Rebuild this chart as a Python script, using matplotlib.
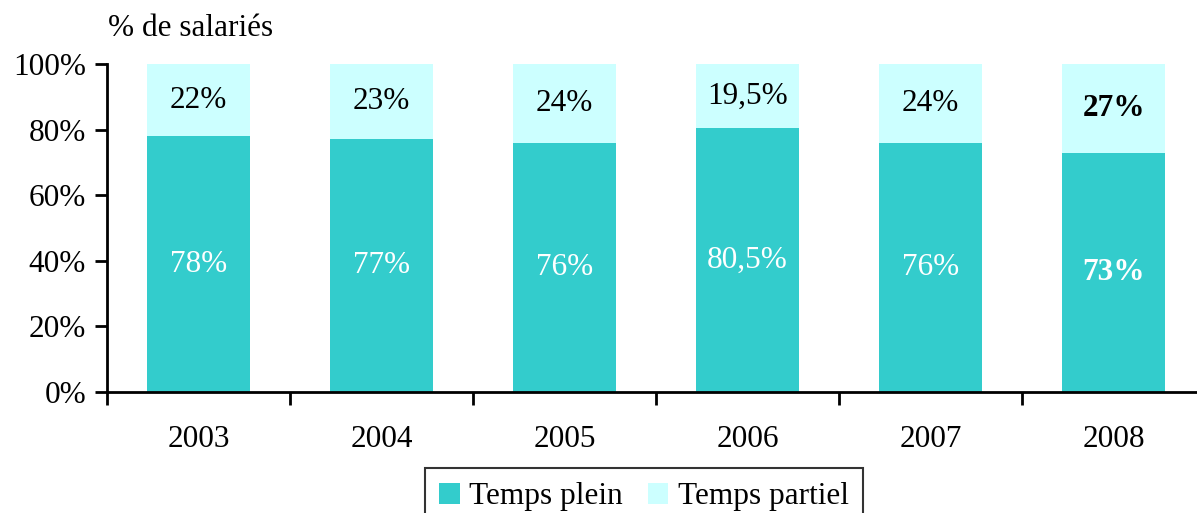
import matplotlib
matplotlib.use("Agg")
import matplotlib.pyplot as plt
import numpy as np

years = ["2003", "2004", "2005", "2006", "2007", "2008"]
plein = [78, 77, 76, 80.5, 76, 73]
partiel = [22, 23, 24, 19.5, 24, 27]
plein_labels = ["78%", "77%", "76%", "80,5%", "76%", "73%"]
partiel_labels = ["22%", "23%", "24%", "19,5%", "24%", "27%"]
bold = [False, False, False, False, False, True]
yticks = [0, 20, 40, 60, 80, 100]
ytick_labels = ["0%", "20%", "40%", "60%", "80%", "100%"]

plt.rcParams['font.family'] = ['Liberation Serif', 'DejaVu Serif']
FS = 22.5

W, H = 1197, 513
fig = plt.figure(figsize=(W/100, H/100), dpi=100)
ax = fig.add_axes([107/W, (H-392)/H, 1098/W, 328/H])

c_plein = "#33CCCC"
c_partiel = "#CCFFFF"
x = np.arange(len(years))
bw = 0.56
b1 = ax.bar(x, plein, bw, color=c_plein, label="Temps plein")
b2 = ax.bar(x, partiel, bw, bottom=plein, color=c_partiel, label="Temps partiel")

for i in range(len(years)):
    fw = "bold" if bold[i] else "normal"
    ax.text(x[i], plein[i]/2, plein_labels[i], ha="center", va="center",
            color="white", fontsize=FS, fontweight=fw)
    ax.text(x[i], plein[i] + partiel[i]/2, partiel_labels[i], ha="center", va="center",
            color="black", fontsize=FS, fontweight=fw)

ax.set_xlim(-0.5, len(years) - 0.5)
ax.set_ylim(0, 100)
ax.set_yticks(yticks)
ax.set_yticklabels(ytick_labels, fontsize=FS)
ax.set_xticks(x)
ax.set_xticklabels(years, fontsize=FS)
ax.tick_params(axis="x", length=0, pad=24)
ax.set_xticks(np.arange(len(years) + 1) - 0.5, minor=True)
ax.tick_params(axis="x", which="minor", length=9, width=2, direction="out")
ax.tick_params(axis="y", length=9, width=2, direction="out", pad=6)
for s in ["top", "right"]:
    ax.spines[s].set_visible(False)
for s in ["left", "bottom"]:
    ax.spines[s].set_linewidth(2)

fig.text(108/W, 1 - 28/H, "% de salariés", fontsize=FS, ha="left", va="center")

leg = fig.legend(handles=[b1, b2], loc="upper center", bbox_to_anchor=(644/W, 1 - 468/H),
                 ncol=2, fontsize=FS, frameon=True, fancybox=False, edgecolor="black",
                 handlelength=0.65, handleheight=0.65, handletextpad=0.3, columnspacing=0.8,
                 borderpad=0.45, borderaxespad=0)
leg.get_frame().set_linewidth(1.5)

fig.savefig("out.png", dpi=100)
